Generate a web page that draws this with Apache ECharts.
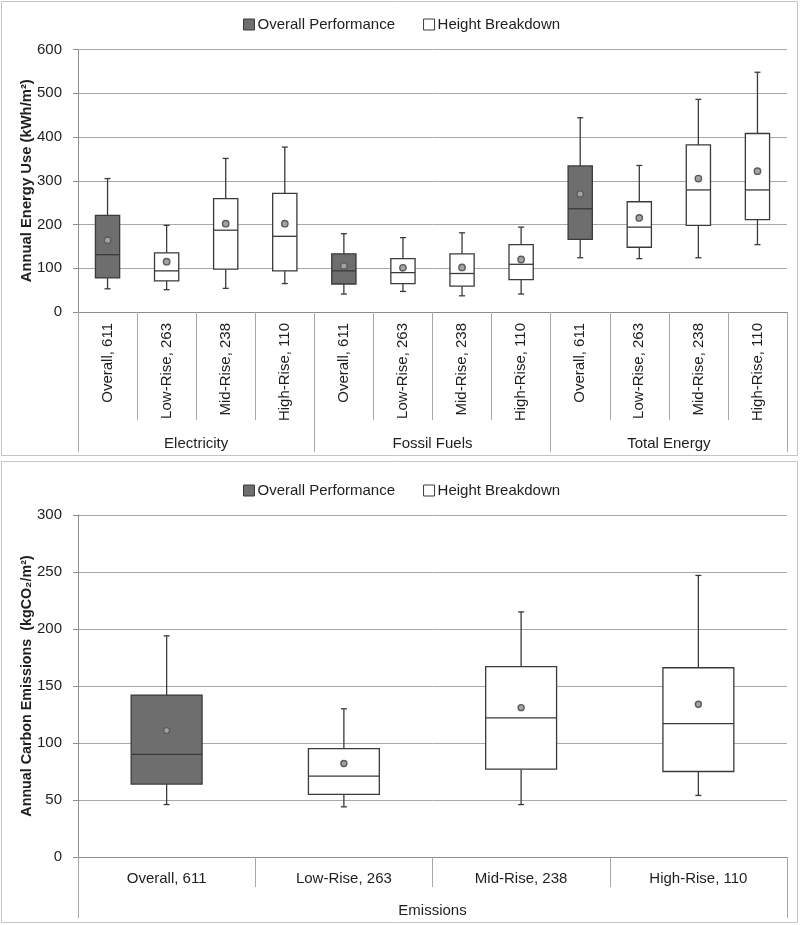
<!DOCTYPE html>
<html>
<head>
<meta charset="utf-8">
<script src="https://cdn.jsdelivr.net/npm/echarts@6/dist/echarts.min.js"></script>
<style>
html,body{margin:0;padding:0;background:#ffffff;}
#c{width:800px;height:925px;}
</style>
</head>
<body>
<div id="c"></div>
<script>
// ---------- DATA ----------
const energyCategories = ['Overall, 611','Low-Rise, 263','Mid-Rise, 238','High-Rise, 110',
                          'Overall, 611','Low-Rise, 263','Mid-Rise, 238','High-Rise, 110',
                          'Overall, 611','Low-Rise, 263','Mid-Rise, 238','High-Rise, 110'];
const energyGroups = ['Electricity','Fossil Fuels','Total Energy'];
const energyTicks = [0,100,200,300,400,500,600];

// each box: [min, q1, median, q3, max]
const electricityBoxes = [[53,78,131,221,305],[51,71,94,135,198],[54,98,187,259,351],[65,94,173,271,377]];
const electricityMeans = [164,115,202,202];
const fossilBoxes = [[41,64,94,133,179],[47,65,90,122,170],[37,59,88,133,181],[41,74,109,154,194]];
const fossilMeans = [105,101,102,120];
const totalBoxes = [[124,166,236,334,444],[122,148,194,252,335],[124,198,279,382,486],[154,211,279,408,548]];
const totalMeans = [270,215,305,322];

const emissionsCategories = ['Overall, 611','Low-Rise, 263','Mid-Rise, 238','High-Rise, 110'];
const emissionsGroups = ['Emissions'];
const emissionsTicks = [0,50,100,150,200,250,300];
const emissionsBoxes = [[46,64,90,142,194],[44,55,71,95,130],[46,77,122,167,215],[54,75,117,166,247]];
const emissionsMeans = [111,82,131,134];

const seriesNames = ['Overall Performance','Height Breakdown'];

// ---------- STYLE ----------
const darkFill = '#6e6e6e';
const lineCol = '#3a3a3a';
const gridCol = '#a8a8a8';
const axisCol = '#8e8e8e';
const textCol = '#1e1e1e';
const font = 'Liberation Sans';

function buildItems(boxes, means, offset) {
  return boxes.map((b, i) => [offset + i, b[0], b[1], b[2], b[3], b[4], means[i]]);
}
const energyAll = []
  .concat(buildItems(electricityBoxes, electricityMeans, 0))
  .concat(buildItems(fossilBoxes, fossilMeans, 4))
  .concat(buildItems(totalBoxes, totalMeans, 8));
const energyOverall = energyAll.filter(d => d[0] % 4 === 0);
const energyBreak = energyAll.filter(d => d[0] % 4 !== 0);
const emisAll = buildItems(emissionsBoxes, emissionsMeans, 0);
const emisOverall = emisAll.filter(d => d[0] === 0);
const emisBreak = emisAll.filter(d => d[0] !== 0);

function makeRender(fill, widthFrac, meanR) {
  return function (params, api) {
    const idx = api.value(0);
    const x = api.coord([idx, 0])[0];
    const band = api.size([1, 0])[0];
    const w = band * widthFrac;
    const y = k => api.coord([idx, api.value(k)])[1];
    const yMin = y(1), yQ1 = y(2), yMed = y(3), yQ3 = y(4), yMax = y(5), yMean = y(6);
    const ls = {stroke: lineCol, lineWidth: 1.3};
    const cap = 3;
    return {
      type: 'group',
      children: [
        {type:'line', shape:{x1:x, y1:yMax, x2:x, y2:yQ3}, style:ls},
        {type:'line', shape:{x1:x, y1:yQ1, x2:x, y2:yMin}, style:ls},
        {type:'line', shape:{x1:x-cap, y1:yMax, x2:x+cap, y2:yMax}, style:ls},
        {type:'line', shape:{x1:x-cap, y1:yMin, x2:x+cap, y2:yMin}, style:ls},
        {type:'rect', shape:{x:x-w/2, y:yQ3, width:w, height:yQ1-yQ3}, style:{fill:fill, stroke:lineCol, lineWidth:1.3}},
        {type:'line', shape:{x1:x-w/2, y1:yMed, x2:x+w/2, y2:yMed}, style:ls},
        {type:'circle', shape:{cx:x, cy:yMean, r:meanR}, style:{fill:'#a3a3a3', stroke:'#5c5c5c', lineWidth:1.4}}
      ]
    };
  };
}

const legendData = [
  {name: seriesNames[0], itemStyle:{color: darkFill, borderColor: lineCol, borderWidth: 1}},
  {name: seriesNames[1], itemStyle:{color: '#ffffff', borderColor: lineCol, borderWidth: 1}}
];
const legendBase = {
  left: 243, padding: 0, itemWidth: 11, itemHeight: 11, itemGap: 28, icon: 'rect',
  textStyle: {fontFamily: font, fontSize: 15, color: textCol, padding: [0, 0, 0, -2]},
  data: legendData, selectedMode: false
};

const yAxisBase = {
  type: 'value',
  axisLine: {show: true, lineStyle: {color: axisCol}},
  axisTick: {show: true, length: 5, lineStyle: {color: axisCol}},
  axisLabel: {fontFamily: font, fontSize: 15, color: textCol, margin: 16},
  splitLine: {show: true, lineStyle: {color: gridCol, width: 1}},
  nameLocation: 'middle',
  nameGap: 44,
  nameMoveOverlap: false,
  nameTextStyle: {fontFamily: font, fontWeight: 'bold', fontSize: 14.8, color: textCol}
};

const option = {
  backgroundColor: '#ffffff',
  animation: false,
  graphic: [
    {type:'rect', shape:{x:1.5, y:1.5, width:796, height:454}, style:{fill:'none', stroke:'#c4c4c4', lineWidth:1}, silent:true, z:-1},
    {type:'rect', shape:{x:1.5, y:461.5, width:796, height:461}, style:{fill:'none', stroke:'#c4c4c4', lineWidth:1}, silent:true, z:-1}
  ],
  legend: [
    Object.assign({}, legendBase, {top: 17}),
    Object.assign({}, legendBase, {top: 483})
  ],
  grid: [
    {left: 78, right: 13, top: 49.5, height: 262.5},
    {left: 78, right: 13, top: 515, height: 342}
  ],
  xAxis: [
    {gridIndex:0, type:'category', position:'bottom', data: energyCategories,
     axisLine:{show:true, lineStyle:{color:axisCol}},
     axisTick:{show:true, length:108, interval:0, lineStyle:{color:gridCol}},
     axisLabel:{interval:0, rotate:90, margin:11, fontFamily:font, fontSize:15, color:textCol},
     splitLine:{show:false}},
    {gridIndex:0, type:'category', position:'bottom', data: energyGroups,
     axisLine:{show:true, lineStyle:{color:axisCol}},
     axisTick:{show:true, length:140, interval:0, lineStyle:{color:gridCol}},
     axisLabel:{interval:0, margin:124, fontFamily:font, fontSize:15, color:textCol},
     splitLine:{show:false}},
    {gridIndex:1, type:'category', position:'bottom', data: emissionsCategories,
     axisLine:{show:true, lineStyle:{color:axisCol}},
     axisTick:{show:true, length:30, interval:0, lineStyle:{color:gridCol}},
     axisLabel:{interval:0, margin:14, fontFamily:font, fontSize:15, color:textCol},
     splitLine:{show:false}},
    {gridIndex:1, type:'category', position:'bottom', data: emissionsGroups,
     axisLine:{show:true, lineStyle:{color:axisCol}},
     axisTick:{show:true, length:61, interval:0, lineStyle:{color:gridCol}},
     axisLabel:{interval:0, margin:46, fontFamily:font, fontSize:15, color:textCol},
     splitLine:{show:false}}
  ],
  yAxis: [
    Object.assign({}, yAxisBase, {gridIndex:0, min: energyTicks[0], max: energyTicks[energyTicks.length-1],
      interval: energyTicks[1]-energyTicks[0], name: 'Annual Energy Use (kWh/m²)'}),
    Object.assign({}, yAxisBase, {gridIndex:1, min: emissionsTicks[0], max: emissionsTicks[emissionsTicks.length-1],
      interval: emissionsTicks[1]-emissionsTicks[0], name: 'Annual Carbon Emissions  (kgCO₂/m²)',
      nameTextStyle: {fontFamily: font, fontWeight: 'bold', fontSize: 14.3, color: textCol}})
  ],
  series: [
    {name: seriesNames[0], type:'custom', xAxisIndex:0, yAxisIndex:0, data: energyOverall,
     itemStyle:{color: darkFill}, renderItem: makeRender(darkFill, 0.41, 3.2), encode:{x:0, y:[1,5]}},
    {name: seriesNames[1], type:'custom', xAxisIndex:0, yAxisIndex:0, data: energyBreak,
     itemStyle:{color: '#ffffff'}, renderItem: makeRender('#ffffff', 0.41, 3.2), encode:{x:0, y:[1,5]}},
    {name: seriesNames[0], type:'custom', xAxisIndex:2, yAxisIndex:1, data: emisOverall,
     itemStyle:{color: darkFill}, renderItem: makeRender(darkFill, 0.40, 3.0), encode:{x:0, y:[1,5]}},
    {name: seriesNames[1], type:'custom', xAxisIndex:2, yAxisIndex:1, data: emisBreak,
     itemStyle:{color: '#ffffff'}, renderItem: makeRender('#ffffff', 0.40, 3.0), encode:{x:0, y:[1,5]}}
  ]
};

const chart = echarts.init(document.getElementById('c'), null, {renderer: 'canvas'});
chart.setOption(option);
</script>
</body>
</html>
